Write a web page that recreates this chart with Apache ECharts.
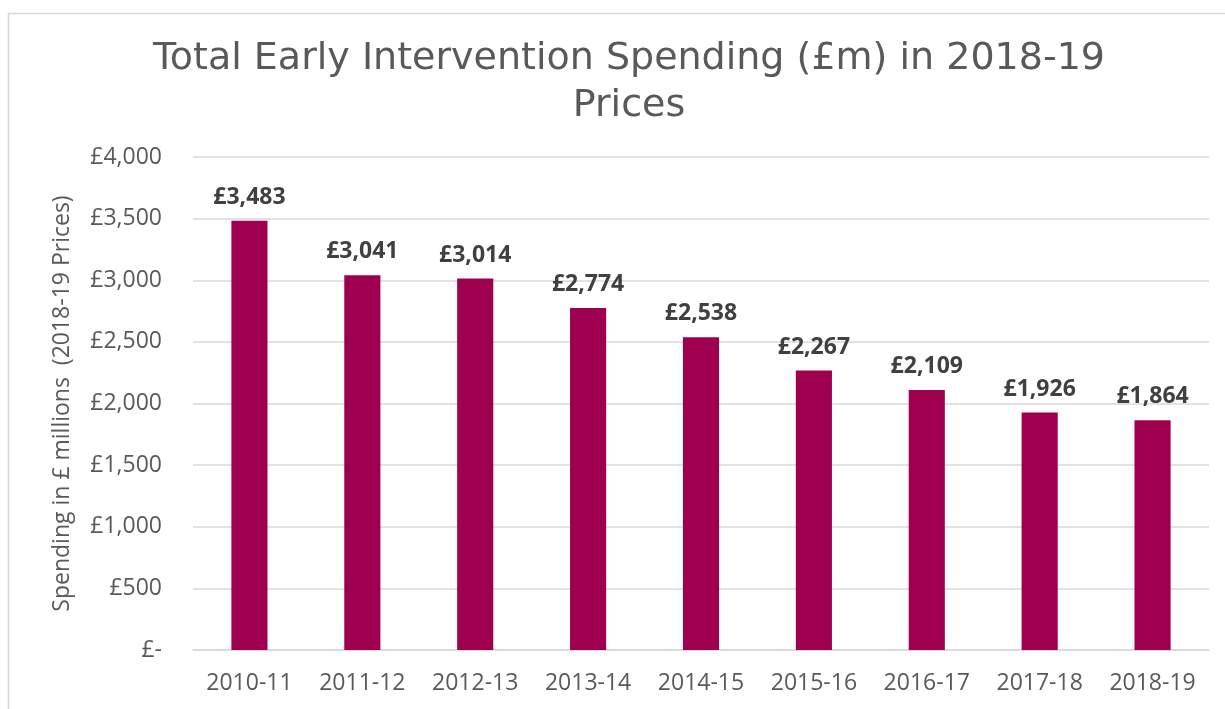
<!DOCTYPE html>
<html>
<head>
<meta charset="utf-8">
<script src="https://cdn.jsdelivr.net/npm/echarts@6/dist/echarts.min.js"></script>
<style>html,body{margin:0;padding:0;background:#fff}#c{width:1225px;height:709px}</style>
</head>
<body>
<div id="c"></div>
<script>
const categories = ['2010-11','2011-12','2012-13','2013-14','2014-15','2015-16','2016-17','2017-18','2018-19'];
const spending = [3483, 3041, 3014, 2774, 2538, 2267, 2109, 1926, 1864];
const titleText = 'Total Early Intervention Spending (£m) in 2018-19\nPrices';
const yAxisName = 'Spending in £ millions  (2018-19 Prices)';

const chart = echarts.init(document.getElementById('c'), null, {renderer: 'canvas'});
const fmt = v => v === 0 ? '£-' : '£' + v.toLocaleString('en-GB');
chart.setOption({
  backgroundColor: '#fff',
  animation: false,
  graphic: [{
    type: 'rect', silent: true, z: -1,
    shape: {x: 8.5, y: 13.5, width: 1400, height: 900},
    style: {fill: 'none', stroke: '#d9d9d9', lineWidth: 1.5}
  }],
  title: {
    text: titleText,
    left: 624, top: 31, textAlign: 'center',
    textStyle: {fontFamily: 'DejaVu Sans', fontSize: 38, fontWeight: 'normal', color: '#595959', lineHeight: 47}
  },
  grid: {left: 193, right: 16, top: 157, bottom: 59, containLabel: false},
  xAxis: {
    type: 'category', data: categories,
    axisLine: {show: true, lineStyle: {color: '#d9d9d9', width: 1.5}},
    axisTick: {show: false},
    axisLabel: {fontFamily: 'Open Sans', fontSize: 23, color: '#595959', margin: 22}
  },
  yAxis: {
    type: 'value', min: 0, max: 4000, interval: 500,
    name: yAxisName, nameLocation: 'middle', nameRotate: 90, nameGap: 119,
    nameTextStyle: {fontFamily: 'Open Sans', fontSize: 23, color: '#595959'},
    axisLine: {show: false}, axisTick: {show: false},
    splitLine: {lineStyle: {color: '#d9d9d9', width: 1.5}},
    axisLabel: {fontFamily: 'Open Sans', fontSize: 23, color: '#595959', margin: 31, formatter: fmt}
  },
  series: [{
    type: 'bar', data: spending, barWidth: '32%',
    itemStyle: {color: '#9e004f'},
    label: {show: true, position: 'top', distance: 12, formatter: p => fmt(p.value),
      fontFamily: 'Open Sans', fontWeight: 'bold', fontSize: 23, color: '#404040'}
  }]
});
</script>
</body>
</html>
